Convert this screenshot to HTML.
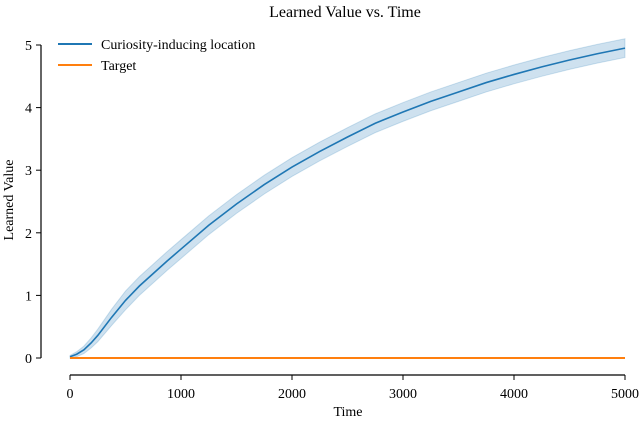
<!DOCTYPE html>
<html><head><meta charset="utf-8"><style>
body{margin:0;background:#fff;}
svg text{font-family:"Liberation Serif",serif;fill:#000;}
</style></head><body>
<svg id="chart" width="640" height="419">
<text x="345" y="17" font-size="16" text-anchor="middle">Learned Value vs. Time</text>
<g id="axes"></g>
<g id="marks"></g>
<text x="348" y="416" font-size="14" text-anchor="middle">Time</text>
<text transform="translate(13,200) rotate(-90)" font-size="14" text-anchor="middle">Learned Value</text>
<g>
<line x1="58" y1="44" x2="92" y2="44" stroke="#1f77b4" stroke-width="2"/>
<text x="101" y="49" font-size="14">Curiosity-inducing location</text>
<line x1="58" y1="65" x2="92" y2="65" stroke="#ff7f0e" stroke-width="2"/>
<text x="101" y="70" font-size="14">Target</text>
</g>
</svg>
<script>
const times=[0,60,125,190,250,375,500,625,750,875,1000,1250,1500,1750,2000,2250,2500,2750,3000,3250,3500,3750,4000,4250,4500,4750,5000];
const curiosity=[0.02,0.06,0.13,0.24,0.36,0.65,0.92,1.15,1.35,1.55,1.74,2.12,2.46,2.77,3.05,3.3,3.53,3.75,3.93,4.1,4.25,4.4,4.53,4.65,4.76,4.86,4.95];
const spread=[0.02,0.04,0.06,0.08,0.1,0.13,0.15,0.15,0.15,0.15,0.15,0.15,0.15,0.15,0.15,0.15,0.15,0.15,0.15,0.15,0.15,0.15,0.15,0.15,0.15,0.15,0.15];
const target=[0,0,0,0,0,0,0,0,0,0,0,0,0,0,0,0,0,0,0,0,0,0,0,0,0,0,0];
const xTicks=[0,1000,2000,3000,4000,5000];
const yTicks=[0,1,2,3,4,5];
const NS="http://www.w3.org/2000/svg";
const X=v=>70+v*(555/5000);
const Y=v=>358-v*62.6;
function mk(tag,attrs,parent){const e=document.createElementNS(NS,tag);for(const k in attrs)e.setAttribute(k,attrs[k]);parent.appendChild(e);return e;}
const ax=document.getElementById('axes'),mg=document.getElementById('marks');
let sp=mk('line',{x1:41,x2:41,y1:Y(5),y2:Y(0),stroke:'#000','stroke-width':1.2},ax);


sp=mk('line',{x1:X(0),x2:X(5000),y1:375,y2:375,stroke:'#000','stroke-width':1.2},ax);


yTicks.forEach(t=>{mk('line',{x1:36,x2:41,y1:Y(t),y2:Y(t),stroke:'#000'},ax);
const tx=mk('text',{x:32,y:Y(t)+5,'font-size':14,'text-anchor':'end'},ax);tx.textContent=t;

});
xTicks.forEach(t=>{mk('line',{x1:X(t),x2:X(t),y1:375,y2:380,stroke:'#000'},ax);
const tx=mk('text',{x:X(t),y:398,'font-size':14,'text-anchor':'middle'},ax);tx.textContent=t;

});
let up=times.map((t,i)=>X(t)+','+Y(curiosity[i]+spread[i]));
let lo=times.map((t,i)=>X(t)+','+Y(curiosity[i]-spread[i])).reverse();
const band=mk('polygon',{points:up.concat(lo).join(' '),fill:'#1f77b4','fill-opacity':0.22,stroke:'#1f77b4','stroke-opacity':0.2},mg);


const l1=mk('polyline',{points:times.map((t,i)=>X(t)+','+Y(curiosity[i])).join(' '),fill:'none',stroke:'#1f77b4','stroke-width':1.6},mg);


const l2=mk('polyline',{points:times.map((t,i)=>X(t)+','+Y(target[i])).join(' '),fill:'none',stroke:'#ff7f0e','stroke-width':2},mg);


</script>
</body></html>
